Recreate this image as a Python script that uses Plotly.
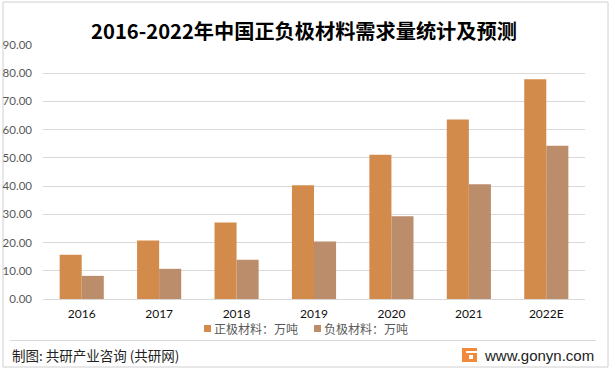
import plotly.graph_objects as go

years = ["2016", "2017", "2018", "2019", "2020", "2021", "2022E"]
cathode = [15.7, 20.7, 27.1, 40.3, 51.1, 63.6, 77.9]
anode = [8.2, 10.7, 13.9, 20.4, 29.3, 40.7, 54.3]
series_names = ["正极材料：万吨", "负极材料：万吨"]
series_colors = ["#D38B4C", "#BB8D6B"]
yticks = [0, 10, 20, 30, 40, 50, 60, 70, 80, 90]

W, H = 613, 372
L, R, T, B = 43, 585, 45, 299


def px(x):
    return (x - L) / (R - L)


def py(y):
    return (B - y) / (B - T)


fig = go.Figure()
for name, vals, col in zip(series_names, [cathode, anode], series_colors):
    fig.add_trace(go.Bar(x=years, y=vals, name=name, showlegend=False,
                         marker=dict(color=col, line=dict(width=0))))

shapes = [
    # outer frame
    dict(type="rect", xref="paper", yref="paper", x0=px(3), x1=px(608), y0=py(2), y1=py(367),
         line=dict(color="#D0D0D0", width=1), fillcolor="rgba(0,0,0,0)", layer="below"),
    # footer separator
    dict(type="line", xref="paper", yref="paper", x0=px(10), x1=px(596), y0=py(340.5), y1=py(340.5),
         line=dict(color="#D9D9D9", width=1)),
    # logo
    dict(type="rect", xref="paper", yref="paper", x0=px(462), x1=px(477), y0=py(362), y1=py(348),
         line=dict(width=0), fillcolor="#F28A3C"),
    dict(type="rect", xref="paper", yref="paper", x0=px(466), x1=px(477), y0=py(353), y1=py(351),
         line=dict(width=0), fillcolor="#FFFFFF"),
    dict(type="rect", xref="paper", yref="paper", x0=px(469), x1=px(473), y0=py(359), y1=py(355),
         line=dict(width=0), fillcolor="#FFFFFF"),
]

annotations = [
    dict(text="制图: 共研产业咨询 (共研网)", xref="paper", yref="paper", x=px(10), y=py(355),
         xanchor="left", yanchor="middle", showarrow=False,
         font=dict(family="Noto Sans CJK SC", size=13.5, color="#222222")),
    dict(text="www.gonyn.com", xref="paper", yref="paper", x=px(596), y=py(355),
         xanchor="right", yanchor="middle", showarrow=False,
         font=dict(family="Liberation Sans", size=15, color="#222222")),
]

# legend (drawn manually for compact icon spacing)
legend_x = [204, 314]
for name, col, lx in zip(series_names, series_colors, legend_x):
    shapes.append(dict(type="rect", xref="paper", yref="paper", x0=px(lx), x1=px(lx + 7),
                       y0=py(332), y1=py(325), line=dict(width=0), fillcolor=col))
    annotations.append(dict(text=name, xref="paper", yref="paper", x=px(lx + 8), y=py(328.5),
                            xanchor="left", yanchor="middle", showarrow=False,
                            font=dict(family="Noto Sans CJK SC", size=12, color="#595959")))

fig.update_layout(
    width=W, height=H,
    margin=dict(l=L, r=W - R, t=T, b=H - B, autoexpand=False),
    paper_bgcolor="white", plot_bgcolor="white",
    title=dict(text="<b>2016-2022年中国正负极材料需求量统计及预测</b>", x=px(304), xref="paper",
               xanchor="center", y=1 - 32 / H, yanchor="middle",
               font=dict(family="Noto Sans CJK SC", size=20.2, color="#000000")),
    barmode="group", bargap=0.43, bargroupgap=0,
    xaxis=dict(showgrid=False, showline=False, ticks="", ticklabelstandoff=6,
               tickfont=dict(family="Lato", size=12, color="#111111")),
    yaxis=dict(range=[0, 90], tickvals=yticks, tickformat=".2f", showgrid=True, gridcolor="#D9D9D9",
               gridwidth=1, zeroline=True, zerolinecolor="#D9D9D9", zerolinewidth=1, showline=False,
               ticks="", ticklabelstandoff=10,
               tickfont=dict(family="Lato", size=11.5, color="#595959")),
    showlegend=False,
    shapes=shapes,
    annotations=annotations,
)

fig.write_html("out.html", config={"displayModeBar": False},
               post_script="document.body.style.margin='0';document.body.style.overflow='hidden';")
